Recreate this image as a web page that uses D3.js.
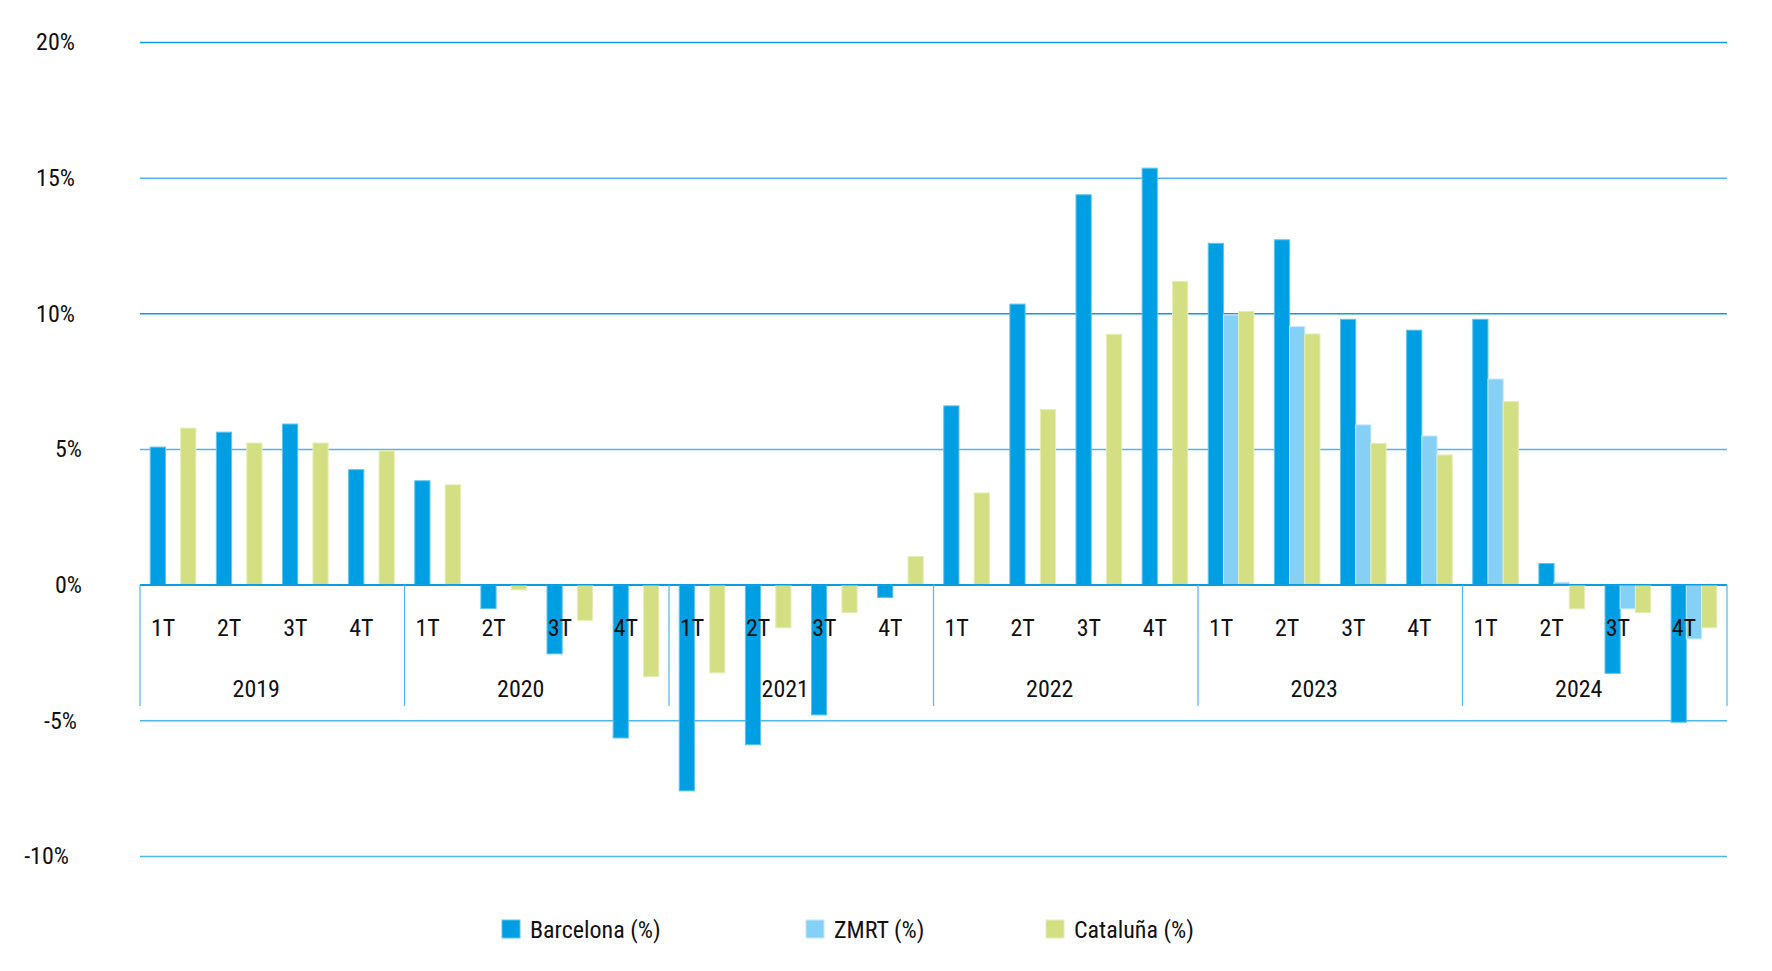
<!DOCTYPE html>
<html>
<head>
<meta charset="utf-8">
<script src="https://cdn.jsdelivr.net/npm/d3@7/dist/d3.min.js"></script>
<style>
  html, body { margin: 0; padding: 0; background: #fff; }
  text { font-family: "Roboto Condensed", "Liberation Sans Narrow", "Roboto", sans-serif; fill: #111; }
</style>
</head>
<body>
<svg id="chart" width="1772" height="971"></svg>
<script>
const years = ["2019", "2020", "2021", "2022", "2023", "2024"];
const quarters = ["1T", "2T", "3T", "4T"];
const seriesNames = ["Barcelona (%)", "ZMRT (%)", "Cataluña (%)"];
const barcelona = [5.07, 5.62, 5.92, 4.24, 3.83, -0.88, -2.55, -5.65, -7.6, -5.9, -4.8, -0.47, 6.59, 10.34, 14.37, 15.35, 12.58, 12.71, 9.78, 9.38, 9.78, 0.78, -3.27, -5.07];
const zmrt = [null, null, null, null, null, null, null, null, null, null, null, null, null, null, null, null, 9.94, 9.51, 5.89, 5.48, 7.58, 0.09, -0.89, -2.0];
const cataluna = [5.77, 5.22, 5.22, 4.93, 3.68, -0.19, -1.31, -3.39, -3.25, -1.59, -1.03, 1.04, 3.38, 6.45, 9.23, 11.18, 10.07, 9.24, 5.21, 4.78, 6.75, -0.89, -1.03, -1.59];
const yTicks = [-10, -5, 0, 5, 10, 15, 20];

const colors = ["#009FE3", "#86D0F5", "#D4DF84"];
const strokes = ["#5FC3EE", "#C4E8FA", "#E6EDB5"];
const seriesValues = [barcelona, zmrt, cataluna];

const svg = d3.select("#chart");
const mLeft = 140, mRight = 1727, mTop = 42, mBottom = 856;

const keys = [];
years.forEach(yv => quarters.forEach(q => keys.push(yv + "-" + q)));

const x = d3.scaleBand().domain(keys).range([mLeft, mRight]).padding(0);
const bw = x.bandwidth();
const x1 = d3.scaleBand().domain(seriesNames).range([0.155 * bw, 0.845 * bw]).padding(0);
const y = d3.scaleLinear().domain([-10, 20]).range([mBottom, mTop]);

// grid + y labels
const yAxis = d3.axisLeft(y).tickValues(yTicks).tickFormat(d => d + "%").tickSize(-(mRight - mLeft)).tickPadding(65);
const gy = svg.append("g").attr("transform", `translate(${mLeft},0)`).call(yAxis);
gy.select(".domain").remove();
gy.selectAll(".tick line").attr("stroke", d => (d === 0 || d === 10 || d === 20) ? "#0C9BDD" : "#4DB8EC").attr("stroke-width", 1.5);
// label alignment in the original is slightly irregular
const labelShift = { "20": 0, "15": 0, "10": 0, "5": 7, "0": 7, "-5": 2, "-10": -6 };
gy.selectAll(".tick text").style("font-size", "24px").attr("fill", "#111")
  .attr("dx", d => labelShift[String(d)]);

// bars
const data = [];
keys.forEach((k, i) => {
  seriesNames.forEach((s, j) => {
    const v = seriesValues[j][i];
    if (v !== null && v !== undefined) data.push({ k, s, j, v });
  });
});
svg.append("g").selectAll("rect").data(data).join("rect")
  .attr("x", d => x(d.k) + x1(d.s))
  .attr("width", x1.bandwidth())
  .attr("y", d => Math.min(y(0), y(d.v)))
  .attr("height", d => Math.abs(y(d.v) - y(0)))
  .attr("fill", d => colors[d.j])
  .attr("stroke", d => strokes[d.j])
  .attr("stroke-width", 1);

// zero line on top
svg.append("line").attr("x1", mLeft).attr("x2", mRight).attr("y1", y(0)).attr("y2", y(0))
  .attr("stroke", "#0C9BDD").attr("stroke-width", 1.5);

// category separators
const sepBottom = 706;
const yearStarts = years.map(yv => x(yv + "-1T"));
yearStarts.push(mRight);
svg.append("g").selectAll("line").data(yearStarts).join("line")
  .attr("x1", d => d).attr("x2", d => d)
  .attr("y1", y(0)).attr("y2", sepBottom)
  .attr("stroke", "#4DB8EC").attr("stroke-width", 1.2);

// quarter labels
svg.append("g").selectAll("text").data(keys).join("text")
  .attr("x", d => x(d) + bw / 2 - 10)
  .attr("y", 636)
  .attr("text-anchor", "middle")
  .style("font-size", "24px")
  .text(d => d.split("-")[1]);

// year labels
svg.append("g").selectAll("text").data(years).join("text")
  .attr("x", d => x(d + "-1T") + bw * 2 - 16)
  .attr("y", 697)
  .attr("text-anchor", "middle")
  .style("font-size", "24px")
  .text(d => d);

// legend
const legendX = [502, 806, 1046];
const lg = svg.append("g").selectAll("g").data(seriesNames).join("g")
  .attr("transform", (d, i) => `translate(${legendX[i]},920)`);
lg.append("rect").attr("width", 18).attr("height", 18)
  .attr("fill", (d, i) => colors[i]).attr("stroke", (d, i) => strokes[i]).attr("stroke-width", 1);
lg.append("text").attr("x", 28).attr("y", 18).style("font-size", "24px").text(d => d);
</script>
</body>
</html>
